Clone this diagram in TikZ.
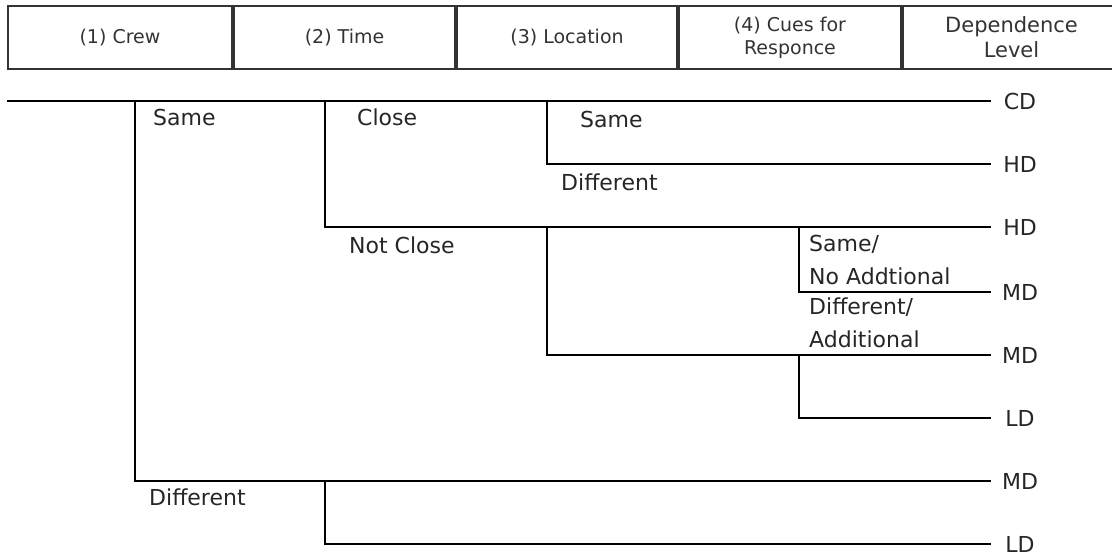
\documentclass[tikz,border=0pt]{standalone}
\usepackage{fontspec}
\setmainfont{DejaVu Sans}
\begin{document}
\begin{tikzpicture}[x=1pt,y=-1pt,
  tree/.style={line width=1.1pt, draw=black},
  hcell/.style={draw=black!80, line width=2pt, minimum height=63pt, inner sep=0pt, anchor=west, font=\fontsize{19}{23}\selectfont, align=center, text=black!80},
  lbl/.style={inner sep=0pt, anchor=west, font=\fontsize{22}{33}\selectfont, align=left, text=black!85},
  leaf/.style={inner sep=0pt, minimum width=58pt, font=\fontsize{22}{26}\selectfont, text=black!85}]
\useasboundingbox (0,0) rectangle (1112,558);
% header
\node[hcell, minimum width=224pt] (h1) at (7,37.5) {(1) Crew};
\node[hcell, minimum width=221pt] (h2) at (h1.east) {(2) Time};
\node[hcell, minimum width=220pt] (h3) at (h2.east) {(3) Location};
\node[hcell, minimum width=222pt] (h4) at (h3.east) {(4) Cues for\\Responce};
\node[hcell, minimum width=217pt, font=\fontsize{21}{25}\selectfont] (h5) at (h4.east) {Dependence\\Level};
% leaves
\node[leaf] (L1) at (1020,101) {CD};
\node[leaf] (L2) at (1020,164) {HD};
\node[leaf] (L3) at (1020,227) {HD};
\node[leaf] (L4) at (1020,292) {MD};
\node[leaf] (L5) at (1020,355) {MD};
\node[leaf] (L6) at (1020,418) {LD};
\node[leaf] (L7) at (1020,481) {MD};
\node[leaf] (L8) at (1020,544) {LD};
% branch points
\coordinate (root) at (7,101);
\coordinate (crewB) at (135,101);
\coordinate (timeB) at (325,101);
\coordinate (locB) at (547,101);
\coordinate (locB2) at (547,227);
\coordinate (cueB) at (799,227);
\coordinate (cueB2) at (799,355);
\coordinate (diffB) at (325,481);
% connectors
\draw[tree] (root) -- (L1.west);
\draw[tree] (crewB) |- (L7.west);
\draw[tree] (timeB) |- (L3.west);
\draw[tree] (diffB) |- (L8.west);
\draw[tree] (locB) |- (L2.west);
\draw[tree] (locB2) |- (L5.west);
\draw[tree] (cueB) |- (L4.west);
\draw[tree] (cueB2) |- (L6.west);
% labels
\node[lbl] (sameC) at (153,117) {Same};
\node[lbl] (close) at (357,117) {Close};
\node[lbl] (sameL) at (580,119) {Same};
\node[lbl] (diffL) at (561,182) {Different};
\node[lbl] (notclose) at (349,245) {Not Close};
\node[lbl] (cueS) at (809,259.5) {Same/\\No Addtional};
\node[lbl] (cueD) at (809,323) {Different/\\Additional};
\node[lbl] (diffC) at (149,497) {Different};
\end{tikzpicture}
\end{document}
